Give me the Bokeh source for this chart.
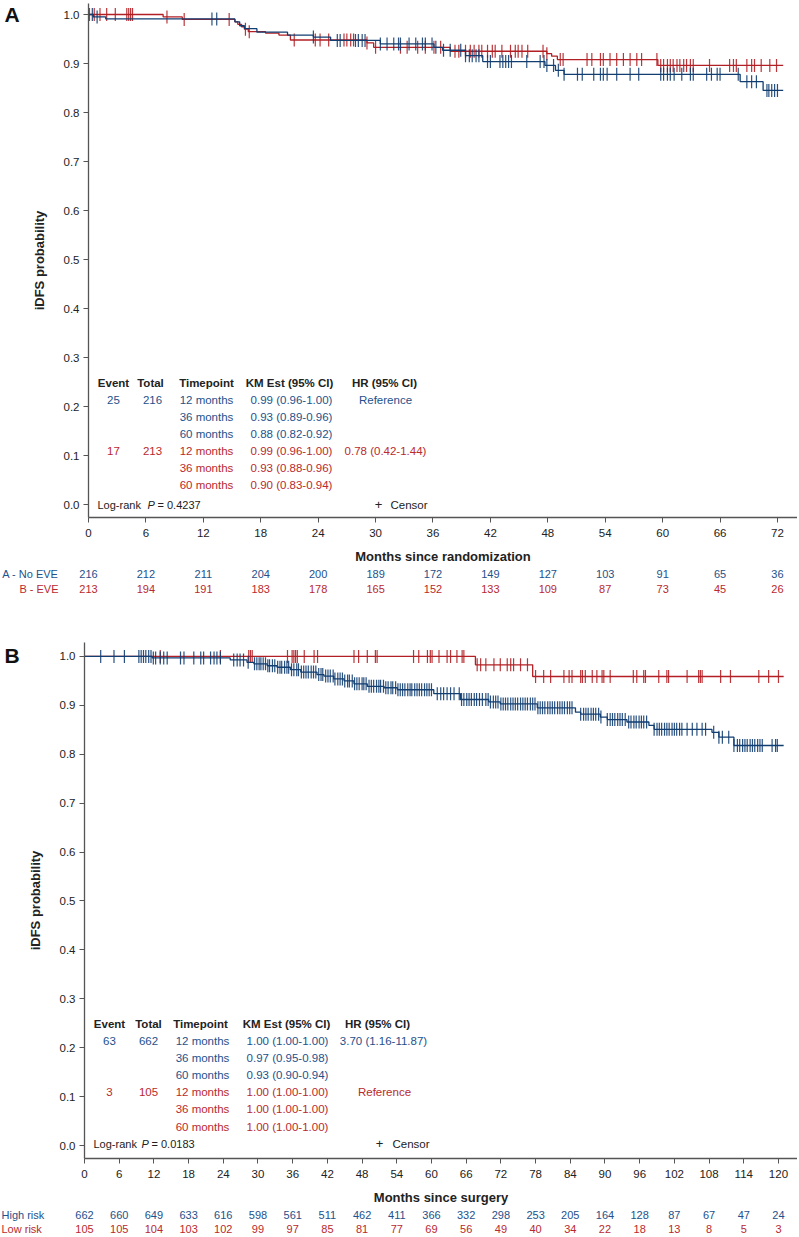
import numpy as np
from bokeh.plotting import figure
from bokeh.models import Range1d, FixedTicker, NumeralTickFormatter
from bokeh.layouts import column, row
from bokeh.embed import file_html
from bokeh.resources import INLINE
from bokeh.core.properties import value

# ---------------- data ----------------
# Panel A: Kaplan-Meier step curves (time in months, survival)
A_BLUE_T = [0, 0.5, 1.8, 15.3, 15.8, 16.3, 17.6, 20.8, 23.5, 25.3, 30.5, 36.1, 37.0, 39.4, 41.2, 47.7, 48.8, 49.7, 68.1, 70.5, 72.6]
A_BLUE_S = [1.0, 0.995, 0.991, 0.985, 0.977, 0.971, 0.964, 0.958, 0.954, 0.947, 0.940, 0.933, 0.927, 0.916, 0.904, 0.896, 0.886, 0.878, 0.863, 0.845, 0.845]
A_RED_T = [0, 7.8, 9.8, 15.3, 15.6, 16.0, 16.3, 16.7, 18.5, 19.9, 21.1, 29.1, 29.8, 37.8, 47.9, 48.4, 49.0, 59.5, 72.6]
A_RED_S = [1.0, 0.995, 0.990, 0.985, 0.980, 0.975, 0.970, 0.965, 0.962, 0.958, 0.948, 0.942, 0.933, 0.925, 0.920, 0.915, 0.908, 0.896, 0.896]
A_BLUE_CENS = [0.4, 0.9, 12.9, 13.4, 23.5, 26.0, 26.3, 27.9, 28.2, 28.6, 28.9, 30.5, 31.2, 31.9, 32.4, 32.6, 33.5,
               34.2, 34.9, 35.2, 35.9, 36.3, 37.1, 37.8, 38.9, 39.4, 39.8, 40.1, 40.5, 40.8, 41.7, 42.0, 43.0,
               43.3, 43.6, 43.9, 44.2, 45.8, 47.2, 47.6, 47.9, 48.6, 49.1, 49.7, 51.1, 51.6, 52.8, 53.5, 53.8,
               54.2, 55.2, 56.6, 57.5, 59.8, 60.1, 60.5, 60.8, 61.2, 62.0, 62.9, 63.2, 64.6, 65.1, 65.7, 66.0,
               67.9, 68.8, 69.3, 69.8, 70.9, 71.1, 71.4, 71.7, 72.0]
A_RED_CENS = [0.1, 0.6, 1.2, 1.9, 2.8, 4.0, 4.2, 4.4, 4.6, 8.2, 10.0, 14.7, 16.4, 16.8, 21.5, 23.7, 24.2, 25.1,
              26.7, 27.0, 27.4, 27.7, 29.1, 30.0, 32.6, 33.3, 34.4, 35.2, 36.1, 36.8, 38.3, 38.7, 39.4, 39.9,
              40.3, 40.8, 41.1, 41.7, 42.2, 42.5, 43.2, 44.1, 44.6, 44.9, 45.3, 45.9, 47.5, 47.9, 49.3, 49.6,
              52.1, 52.6, 53.5, 53.8, 54.5, 55.2, 55.9, 56.6, 57.3, 57.8, 59.4, 59.8, 60.1, 60.5, 60.8, 61.1,
              61.5, 61.8, 62.2, 62.5, 62.9, 63.2, 64.9, 67.0, 67.4, 67.7, 68.8, 69.3, 69.6, 70.3, 71.2, 71.9]
A_RISK_T = [0, 6, 12, 18, 24, 30, 36, 42, 48, 54, 60, 66, 72]
A_RISK_BLUE = [216, 212, 211, 204, 200, 189, 172, 149, 127, 103, 91, 65, 36]
A_RISK_RED = [213, 194, 191, 183, 178, 165, 152, 133, 109, 87, 73, 45, 26]
A_GROUPS = ["A - No EVE", "B - EVE"]
A_EVENTS = ["25", "17"]
A_TOTALS = ["216", "213"]
A_KM_BLUE = ["0.99 (0.96-1.00)", "0.93 (0.89-0.96)", "0.88 (0.82-0.92)"]
A_KM_RED = ["0.99 (0.96-1.00)", "0.93 (0.88-0.96)", "0.90 (0.83-0.94)"]
A_HR = ["Reference", "0.78 (0.42-1.44)"]
A_P = "0.4237"

# Panel B
B_BLUE_T = [0, 11.7, 25.2, 28.1, 29.3, 31.6, 33.3, 35.6, 37.4, 40.2, 41.4, 43.1, 44.9, 46.6, 48.9, 51.8, 54.1,
            60.4, 65.0, 69.9, 71.9, 78.3, 84.9, 85.8, 89.2, 90.4, 93.8, 97.6, 98.5, 108.5, 109.7, 112.3, 120.9]
B_BLUE_S = [1.0, 0.997, 0.993, 0.988, 0.985, 0.981, 0.978, 0.973, 0.968, 0.963, 0.960, 0.954, 0.950, 0.944, 0.939,
            0.936, 0.932, 0.924, 0.912, 0.907, 0.903, 0.895, 0.886, 0.882, 0.876, 0.871, 0.866, 0.859, 0.851,
            0.845, 0.835, 0.818, 0.818]
B_RED_T = [0, 67.6, 77.5, 120.9]
B_RED_S = [1.0, 0.983, 0.959, 0.959]
B_RED_CENS = [13.1, 23.5, 28.4, 28.7, 29.0, 35.1, 35.9, 36.2, 36.5, 36.8, 38.0, 39.7, 40.3, 46.6, 47.4, 48.9, 50.3,
              50.6, 56.9, 57.8, 59.3, 59.8, 60.1, 61.3, 62.7, 63.3, 64.4, 65.3, 65.6, 67.9, 68.5, 69.4, 70.8,
              71.9, 73.1, 73.7, 74.2, 75.4, 76.6, 78.0, 79.4, 80.6, 82.9, 83.8, 84.3, 85.8, 86.1, 86.6, 87.8,
              88.6, 89.5, 89.8, 90.9, 94.9, 95.5, 96.7, 97.0, 99.3, 100.7, 101.0, 104.2, 106.2, 106.5, 106.8,
              110.0, 111.7, 116.6, 118.3, 120.0]
B_BLUE_CENS = [2.8, 5.1, 6.9, 9.4, 9.8, 10.2, 10.6, 11.1, 11.5, 11.9, 12.3, 13.1, 13.7, 14.3, 16.6, 17.2, 18.9,
               20.1, 20.6, 21.8, 22.4, 22.9, 23.5, 25.8, 26.4, 26.9, 27.5, 28.3,
               29.4, 29.8, 30.2, 30.5, 30.9, 31.3, 31.7, 32.0, 32.5, 32.9, 33.4, 33.8, 34.1, 34.6, 35.0, 35.3,
               35.8, 36.2, 36.7, 37.0, 37.5, 37.9, 38.3, 38.7, 39.2, 39.6, 40.0, 40.5, 40.9, 41.2, 41.7, 42.1,
               42.5, 43.0, 43.3, 43.8, 44.2, 44.6, 45.0, 45.5, 45.8, 46.3, 46.7, 47.1, 47.5, 48.0, 48.3, 48.7,
               49.2, 49.6, 50.0, 50.5, 50.9, 51.2, 51.7, 52.1, 52.5, 53.0, 53.3, 53.8, 54.2,
               54.6, 55.0, 55.4, 55.9, 56.3, 56.6, 57.1, 57.5, 57.9, 58.3, 58.8, 59.2, 59.6, 60.0,
               61.0, 61.6, 62.1, 62.7, 63.3, 63.9,
               64.8, 65.2, 65.6, 66.1, 66.5, 66.9, 67.4, 67.8, 68.3, 68.8,
               69.4, 69.8, 70.2, 70.7, 71.1, 71.5, 72.0, 72.4, 72.8, 73.2, 73.7, 74.1, 74.5, 74.9, 75.4, 75.8,
               76.2, 76.6, 77.1, 77.5, 77.9, 78.4, 78.8, 79.2, 79.6, 80.1, 80.5, 80.9, 81.3, 81.8, 82.2, 82.6,
               83.0, 83.5, 83.9, 84.3,
               85.8, 86.3, 86.7, 87.1, 87.6, 88.0, 88.4, 88.9, 89.3,
               90.4, 90.9, 91.3, 91.7, 92.2, 92.6, 93.0, 93.5,
               94.1, 94.5, 95.0, 95.4, 95.9, 96.3, 96.7, 97.2,
               98.5, 99.0, 99.4, 99.8, 100.3, 100.7, 101.1, 101.6, 102.0, 102.4, 102.9, 103.3,
               104.2, 105.1, 105.9, 106.8, 107.4, 108.8, 109.7, 110.3, 111.4, 112.3,
               112.9, 113.3, 113.8, 114.2, 114.6, 115.1, 115.5, 115.9, 116.4, 116.8, 117.2,
               118.9, 119.5, 119.8]
B_RISK_T = [0, 6, 12, 18, 24, 30, 36, 42, 48, 54, 60, 66, 72, 78, 84, 90, 96, 102, 108, 114, 120]
B_RISK_BLUE = [662, 660, 649, 633, 616, 598, 561, 511, 462, 411, 366, 332, 298, 253, 205, 164, 128, 87, 67, 47, 24]
B_RISK_RED = [105, 105, 104, 103, 102, 99, 97, 85, 81, 77, 69, 56, 49, 40, 34, 22, 18, 13, 8, 5, 3]
B_GROUPS = ["High risk", "Low risk"]
B_EVENTS = ["63", "3"]
B_TOTALS = ["662", "105"]
B_KM_BLUE = ["1.00 (1.00-1.00)", "0.97 (0.95-0.98)", "0.93 (0.90-0.94)"]
B_KM_RED = ["1.00 (1.00-1.00)", "1.00 (1.00-1.00)", "1.00 (1.00-1.00)"]
B_HR = ["3.70 (1.16-11.87)", "Reference"]
B_P = "0.0183"

TIMEPOINTS = ["12 months", "36 months", "60 months"]
HEADERS = ["Event", "Total", "Timepoint", "KM Est (95% CI)", "HR (95% CI)"]
Y_TICKS = [0.0, 0.1, 0.2, 0.3, 0.4, 0.5, 0.6, 0.7, 0.8, 0.9, 1.0]

# ---------------- style ----------------
BLUE = "#123e72"
RED = "#b21f24"
BLUE_TXT = "#24518b"
RED_TXT = "#b9292e"
DARK = "#222222"
AXIS = "#555555"
FONT = "Liberation Sans"
TOTAL_W = 797
LET_W = 24
W = TOTAL_W - LET_W


def txt(p, xs, ys, texts, color, size="11.5px", style="normal", align="center"):
    p.text(x=xs, y=ys, text=texts, text_color=color, text_font=value(FONT),
           text_font_size=size, text_font_style=style, text_align=align,
           text_baseline="middle")


def blank_fig(w, h, x0, x1, bt=0, bb=0):
    p = figure(width=w, height=h, x_range=Range1d(x0, x1), y_range=Range1d(h - bt - bb, 0),
               output_backend="svg", toolbar_location=None, min_border=0,
               min_border_top=bt, min_border_bottom=bb,
               x_axis_location=None, y_axis_location=None)
    p.xgrid.visible = False
    p.ygrid.visible = False
    p.outline_line_color = None
    return p


def letter_fig(letter, h, bt, bb, y_px):
    # frame aligned with the neighbouring plot's frame; y measured from frame top
    p = blank_fig(LET_W, h, 0, LET_W, bt, bb)
    txt(p, [4], [y_px - bt], [letter], "#111111", size="21px", style="bold", align="left")
    return p


def km_panel(bl, bt, bb, frame_h, x_end, y_lo, y_hi, xticks, xlabel,
             blue_t, blue_s, red_t, red_s, blue_c, red_c, tbl):
    h = bt + frame_h + bb
    p = figure(width=W, height=h, x_range=Range1d(0, x_end), y_range=Range1d(y_lo, y_hi),
               output_backend="svg", toolbar_location=None,
               min_border_left=bl, min_border_right=0, min_border_top=bt, min_border_bottom=bb)
    p.xgrid.visible = False
    p.ygrid.visible = False
    p.outline_line_color = None
    for ax in (p.xaxis[0], p.yaxis[0]):
        ax.axis_line_color = AXIS
        ax.axis_line_width = 1.3
        ax.major_tick_line_color = AXIS
        ax.major_tick_out = 5
        ax.major_tick_in = 0
        ax.minor_tick_line_color = None
        ax.major_label_text_font = FONT
        ax.major_label_text_font_size = "11.5px"
        ax.major_label_text_color = DARK
        ax.axis_label_text_font = FONT
        ax.axis_label_text_font_size = "13px"
        ax.axis_label_text_font_style = "bold"
        ax.axis_label_text_color = DARK
    p.xaxis.ticker = FixedTicker(ticks=xticks)
    p.xaxis.axis_label = xlabel
    p.xaxis.major_label_standoff = 6
    p.xaxis.axis_label_standoff = 9
    p.yaxis.ticker = FixedTicker(ticks=Y_TICKS)
    p.yaxis.formatter = NumeralTickFormatter(format="0.0")
    p.yaxis.axis_label = "iDFS probability"
    p.yaxis.major_label_standoff = 4
    p.yaxis.axis_label_standoff = 14

    for t, s, c, col in ((red_t, red_s, red_c, RED), (blue_t, blue_s, blue_c, BLUE)):
        p.step(x=t, y=s, mode="after", line_color=col, line_width=1.3)
        idx = np.searchsorted(np.array(t), np.array(c), side="right") - 1
        cy = np.array(s)[idx]
        p.scatter(x=c, y=cy, marker="dash", angle=np.pi / 2, size=13,
                  line_color=col, line_width=1.2, line_alpha=0.9)

    # in-plot summary table (positions given in page pixels, converted to data units)
    fl, scale, y1px = tbl["fl"], tbl["scale"], tbl["y1px"]
    X = lambda px: (px - fl) / scale
    Y = lambda py: 1.0 - (py - y1px) / 490.0
    rows = [Y(v) for v in tbl["rows"]]
    cx = tbl["cols"]
    hx = tbl["hcols"]
    txt(p, [X(v) for v in hx], [Y(tbl["head"])] * 5, HEADERS, DARK, size="11.5px", style="bold")
    txt(p, [X(cx[0]), X(cx[0])], [rows[0], rows[3]], tbl["events"], [BLUE_TXT, RED_TXT])
    txt(p, [X(cx[1]), X(cx[1])], [rows[0], rows[3]], tbl["totals"], [BLUE_TXT, RED_TXT])
    txt(p, [X(cx[2])] * 6, rows, TIMEPOINTS + TIMEPOINTS, [BLUE_TXT] * 3 + [RED_TXT] * 3)
    txt(p, [X(cx[3])] * 6, rows, tbl["km_b"] + tbl["km_r"], [BLUE_TXT] * 3 + [RED_TXT] * 3)
    txt(p, [X(cx[4]), X(cx[5])], [rows[0], rows[3]], tbl["hr"], [BLUE_TXT, RED_TXT])
    lr = tbl["logrank"]
    yl = Y(tbl["lry"])
    txt(p, [X(lr[0])], [yl], ["Log-rank"], DARK, size="11px", align="left")
    txt(p, [X(lr[1])], [yl], ["P"], DARK, size="11px", style="italic", align="left")
    txt(p, [X(lr[2])], [yl], ["= " + tbl["p"]], DARK, size="11px", align="left")
    txt(p, [X(lr[3])], [yl], ["+"], DARK, size="13px")
    txt(p, [X(lr[4])], [yl], ["Censor"], DARK, align="left")
    return p


def risk_panel(h, fl, scale, times, blue, red, groups, rows_px, lab_px, lab_align):
    p = blank_fig(TOTAL_W, h, -fl / scale, (TOTAL_W - fl) / scale)
    txt(p, times, [rows_px[0]] * len(times), [str(v) for v in blue], BLUE_TXT, size="11px")
    txt(p, times, [rows_px[1]] * len(times), [str(v) for v in red], RED_TXT, size="11px")
    lx = (lab_px - fl) / scale
    txt(p, [lx, lx], rows_px, groups, [BLUE_TXT, RED_TXT], size="11px", align=lab_align)
    return p


# ---- Panel A ----
A_FL = 88                      # page x of t=0
A_SCALE = 9.569                # px per month
A_XEND = (TOTAL_W - A_FL) / A_SCALE
A_BT, A_FH, A_BB = 3, 514, 50
A_YHI = 1.0 + (14 - A_BT) / 490.0
A_YLO = -(A_BT + A_FH - 504) / 490.0
A_H = A_BT + A_FH + A_BB
tblA = dict(fl=A_FL, scale=A_SCALE, y1px=14, head=382, rows=[399, 416, 433, 450, 467, 484],
            cols=[113, 152, 206, 291, 385, 385], hcols=[113, 150, 206, 289, 384],
            events=A_EVENTS, totals=A_TOTALS, km_b=A_KM_BLUE, km_r=A_KM_RED, hr=A_HR,
            logrank=[97, 147, 157, 378, 390], lry=504, p=A_P)
pA = km_panel(A_FL - LET_W, A_BT, A_BB, A_FH, A_XEND, A_YLO, A_YHI, A_RISK_T,
              "Months since randomization", A_BLUE_T, A_BLUE_S, A_RED_T, A_RED_S,
              A_BLUE_CENS, A_RED_CENS, tblA)
lA = letter_fig("A", A_H, A_BT, A_BB, 14)
RA_H = 33
rA = risk_panel(RA_H, A_FL, A_SCALE, A_RISK_T, A_RISK_BLUE, A_RISK_RED, A_GROUPS,
                [573 - A_H, 588 - A_H], 58, "right")

# ---- Panel B ----
B_FL = 84
B_SCALE = 5.783
B_XEND = (TOTAL_W - B_FL) / B_SCALE
B_TOP = A_H + RA_H             # page y where panel B figure starts
B_BT, B_FH, B_BB = 642 - B_TOP, 516, 50
B_YHI = 1.0 + (656 - 642) / 490.0
B_YLO = -(642 + B_FH - 1145) / 490.0
B_H = B_BT + B_FH + B_BB
tblB = dict(fl=B_FL, scale=B_SCALE, y1px=656, head=1024, rows=[1041, 1058, 1075, 1092, 1109, 1127],
            cols=[109, 148, 202, 287, 383, 384], hcols=[109, 148, 200, 286, 377],
            events=B_EVENTS, totals=B_TOTALS, km_b=B_KM_BLUE, km_r=B_KM_RED, hr=B_HR,
            logrank=[93, 141, 151, 379, 392], lry=1144, p=B_P)
pB = km_panel(B_FL - LET_W, B_BT, B_BB, B_FH, B_XEND, B_YLO, B_YHI, B_RISK_T,
              "Months since surgery", B_BLUE_T, B_BLUE_S, B_RED_T, B_RED_S,
              B_BLUE_CENS, B_RED_CENS, tblB)
lB = letter_fig("B", B_H, B_BT, B_BB, 655 - B_TOP)
B_END = B_TOP + B_H
rB = risk_panel(28, B_FL, B_SCALE, B_RISK_T, B_RISK_BLUE, B_RISK_RED, B_GROUPS,
                [1214 - B_END, 1228 - B_END], 1, "left")

layout = column(row(lA, pA, spacing=0), rA, row(lB, pB, spacing=0), rB, spacing=0)
open("out.html", "w").write(file_html(layout, INLINE, title="iDFS"))
